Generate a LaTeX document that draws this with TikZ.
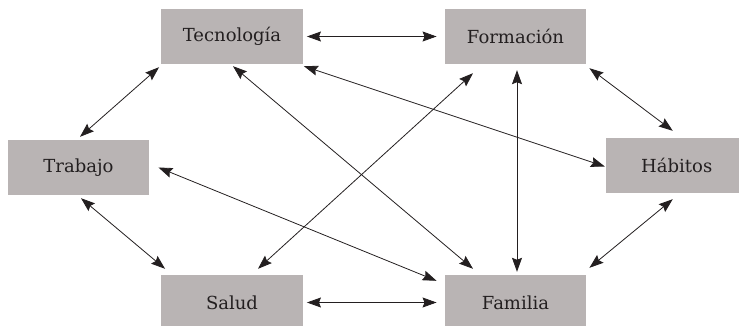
\documentclass[tikz,border=0pt]{standalone}
\usepackage{tikz}
\usepackage{fontspec}
\setmainfont{DejaVu Serif}
\usetikzlibrary{arrows.meta}
\definecolor{boxgray}{RGB}{185,180,180}
\definecolor{inkgray}{RGB}{35,31,32}

\begin{document}
\begin{tikzpicture}[x=1pt,y=-1pt,
  factor/.style={fill=boxgray,minimum width=141.5pt,minimum height=55pt,inner sep=0pt,
    text=inkgray,font=\fontsize{18}{22}\selectfont},
  link/.style={draw=inkgray,line width=0.8pt,
    {Stealth[length=14pt,width=10pt,inset=2pt]}-{Stealth[length=14pt,width=10pt,inset=2pt]}}]
 \useasboundingbox (0,0) rectangle (739,326);
 % factors
 \node[factor] (tec) at (232,36.5) {Tecnología};
 \node[factor] (form) at (515.5,36.5) {Formación};
 \node[factor] (trab) at (78.5,167.5) {Trabajo};
 \node[factor] (hab) at (676.75,165.5) {Hábitos};
 \node[factor] (sal) at (232,302.5) {Salud};
 \node[factor] (fam) at (515.5,302.5) {Familia};
 % relations
 \draw[link] ([shift={(4,0)}]tec.east) -- ([shift={(-8,0)}]form.west);
 \draw[link] ([shift={(-2,3)}]tec.south west) -- ([shift={(1.5,-3)}]trab.north);
 \draw[link] ([shift={(1,2)}]tec.south) -- ([shift={(-42.5,-6)}]fam.north);
 \draw[link] ([shift={(1,2)}]tec.south east) -- ([shift={(-1,1)}]hab.west);
 \draw[link] ([shift={(-42.5,9)}]form.south) -- ([shift={(26,-6)}]sal.north);
 \draw[link] ([shift={(1.5,6)}]form.south) -- ([shift={(1.5,-3)}]fam.north);
 \draw[link] ([shift={(3,4)}]form.south east) -- ([shift={(-4,-7)}]hab.north);
 \draw[link] ([shift={(2.5,3)}]trab.south) -- ([shift={(4,-6)}]sal.north west);
 \draw[link] ([shift={(9,0)}]trab.east) -- ([shift={(-8,6)}]fam.north west);
 \draw[link] ([shift={(-4,6)}]hab.south) -- ([shift={(3,-7)}]fam.north east);
 \draw[link] ([shift={(4,0)}]sal.east) -- ([shift={(-8,0)}]fam.west);
\end{tikzpicture}
\end{document}
